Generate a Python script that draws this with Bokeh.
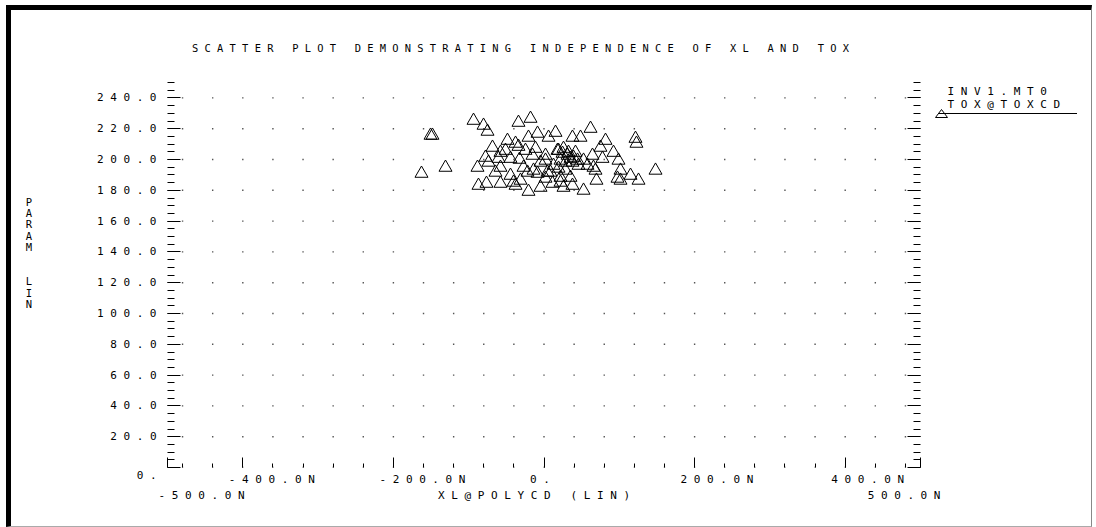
import numpy as np
from bokeh.plotting import figure
from bokeh.models import LinearAxis, FixedTicker, Range1d, Label
from bokeh.embed import file_html
from bokeh.resources import INLINE

# ---------------- data ----------------
title_text = "SCATTER PLOT DEMONSTRATING INDEPENDENCE OF XL AND TOX"
x_axis_title = "XL@POLYCD (LIN)"
y_axis_title = "PARAM LIN"
legend_lines = ["INV1.MT0", "TOX@TOXCD"]

xtick_values = [-400, -200, 0, 200, 400]
xtick_labels = ["-400.0N", "-200.0N", "0.", "200.0N", "400.0N"]
xend_values = [-500, 500]
xend_labels = ["-500.0N", "500.0N"]
ytick_values = [0, 20, 40, 60, 80, 100, 120, 140, 160, 180, 200, 220, 240]
ytick_labels = ["0.", "20.0", "40.0", "60.0", "80.0", "100.0", "120.0", "140.0",
                "160.0", "180.0", "200.0", "220.0", "240.0"]

xl = [-93.6, -80.3, -75.0, -33.9, -17.9, -150.7, -148.1, -8.6, -20.6, 6.0,
      15.3, 37.8, 48.5, 61.8, 121.5, 122.8, -48.5, -37.8, -33.9, 75.0,
      -68.4, -57.8, -11.3, -77.7, -60.4, -44.5, -32.5, -15.3, 2.0, 2.0,
      17.9, 24.6, 31.2, 35.2, 41.8, 21.9, 28.6, 37.8, 44.5, 64.4,
      77.7, 92.3, 98.9, -73.7, -57.8, -27.2, -21.9, -13.9, -8.6, 4.6,
      8.6, -162.7, -130.8, -88.3, -44.5, 21.9, 35.2, 65.7, 68.4, 97.6,
      101.6, 101.6, 114.9, 125.5, 148.1, 19.3, 28.6, -57.8, -87.0, -40.5,
      -37.8, -20.6, -4.6, 11.3, 25.9, 21.9, 37.8, 52.5, -76.4, 19.3,
      25.9, 32.5, 39.2, 45.8, 52.5, 57.8, 12.6, -4.6, -24.6, -51.1,
      -64.4, -31.2, 2.0, 69.7, 81.7]
tox = [225.3, 222.1, 218.2, 224.0, 226.6, 215.6, 215.6, 216.9, 214.3, 214.3,
       217.5, 214.3, 214.3, 220.1, 213.6, 210.4, 212.3, 210.4, 208.4, 207.8,
       207.8, 204.5, 207.1, 201.3, 200.6, 200.6, 200.0, 202.6, 202.6, 199.4,
       205.8, 203.9, 202.6, 200.6, 204.5, 199.4, 198.1, 198.1, 199.4, 202.6,
       200.6, 204.5, 199.4, 198.1, 194.8, 194.8, 191.6, 192.9, 190.9, 191.6,
       191.6, 190.9, 194.8, 194.8, 189.6, 188.3, 188.3, 194.8, 192.9, 187.7,
       186.4, 192.9, 189.6, 186.4, 192.9, 194.2, 192.9, 184.4, 183.1, 185.1,
       183.1, 179.2, 181.8, 184.4, 181.8, 185.1, 183.1, 179.9, 184.4, 205.8,
       207.1, 204.5, 201.3, 196.1, 199.4, 196.1, 196.1, 198.1, 205.8, 205.8,
       191.6, 186.4, 187.7, 186.4, 212.3]

# ---------------- layout ----------------
W, H = 1080, 516                     # figure size (css content box)
BL, BT = 5, 5                        # css frame borders (left, top)
CW, CH = W + BL + 1, H + BT + 1      # canvas size that bokeh ends up drawing
OX, OY = 11, 10                      # canvas origin on page
FL, FR, FT, FB = 167, 920, 82, 467   # plot frame on page
XMIN, XMAX, YMIN, YMAX = -500, 500, 0, 250
PPU = (FR - FL) / (XMAX - XMIN)      # pixels per x unit
FONT = "DejaVu Sans Mono"
FS_PX = 11
FS = f"{FS_PX}px"
ADV = 0.602 * FS_PX                  # monospace advance


def X(px):
    return XMIN + (px - FL) / PPU


def Y(py):
    return YMIN + (FB - py) * (YMAX - YMIN) / (FB - FT)


def sp(s):
    # wide letter spacing of the plotter font; word gaps kept with NBSP
    return " ".join("\u00a0" if c == " " else c for c in s)


def width_px(s):
    return (2 * len(s) - 1) * ADV


p = figure(width=W, height=H, output_backend="svg", toolbar_location=None,
           x_range=Range1d(XMIN, XMAX), y_range=Range1d(YMIN, YMAX),
           min_border_left=FL - OX, min_border_right=CW - (FR - OX),
           min_border_top=FT - OY, min_border_bottom=CH - (FB - OY),
           x_axis_location="below", y_axis_location="left")

# legend key (triangle + long rule) drawn as a small svg behind the canvas
key_svg = ("<svg xmlns='http://www.w3.org/2000/svg' width='150' height='16'>"
           "<polygon points='2.5,13.5 14.5,13.5 8.5,5.5' fill='none' stroke='black'/>"
           "<line x1='5' y1='9.5' x2='144' y2='9.5' stroke='black'/></svg>")
p.styles = {"box-sizing": "content-box", "margin-left": "6px", "margin-top": "5px",
            "border-left": f"{BL}px solid black", "border-top": f"{BT}px solid black",
            "border-right": "1px solid #888", "border-bottom": "1px solid #aaa",
            "background-color": "white",
            "background-image": f'url("data:image/svg+xml;utf8,{key_svg}")',
            "background-repeat": "no-repeat",
            "background-position": f"{933 - OX}px {104 - OY}px"}
p.outline_line_color = None
p.xgrid.visible = False
p.ygrid.visible = False
p.background_fill_color = "white"
p.border_fill_color = None

# ---- y axes: inward ticks; left one carries the tick labels ----
yminor = list(range(YMIN, YMAX + 1, 5))
right = LinearAxis()
p.add_layout(right, "right")
for ax in (p.yaxis[0], right):
    ax.ticker = FixedTicker(ticks=ytick_values, minor_ticks=yminor)
    ax.axis_line_color = None
    ax.major_tick_in = 13
    ax.major_tick_out = 0
    ax.minor_tick_in = 7
    ax.minor_tick_out = 0
    ax.major_tick_line_color = "black"
    ax.minor_tick_line_color = "black"
    ax.major_label_text_font = FONT
    ax.major_label_text_font_size = FS
    ax.major_label_text_color = "black"
LABEL_GAP = 11
yover = {v: sp(s) for v, s in zip(ytick_values, ytick_labels)}
yover[ytick_values[0]] = ""          # the origin label sits lower, drawn below
p.yaxis[0].major_label_overrides = yover
p.yaxis[0].major_label_standoff = LABEL_GAP
right.major_label_overrides = {v: "" for v in ytick_values}
right.major_label_text_font_size = "0px"

# ---- x axis: inward ticks only ----
xmajor = [XMIN] + xtick_values + [XMAX]
xminor = list(range(-480, 481, 40))
xa = p.xaxis[0]
xa.ticker = FixedTicker(ticks=xmajor, minor_ticks=xminor)
xa.major_label_overrides = {v: "" for v in xmajor}
xa.major_label_text_font_size = "0px"
xa.major_label_standoff = 0
xa.axis_line_color = None
xa.major_tick_in = 10
xa.major_tick_out = 0
xa.minor_tick_in = 4
xa.minor_tick_out = 0
xa.major_tick_line_color = "black"
xa.minor_tick_line_color = "black"


def text_axis(positions, texts, standoff):
    ax = LinearAxis(ticker=FixedTicker(ticks=positions, minor_ticks=[]))
    ax.major_label_overrides = dict(zip(positions, texts))
    ax.axis_line_color = None
    ax.major_tick_line_color = None
    ax.minor_tick_line_color = None
    ax.major_tick_in = 0
    ax.major_tick_out = 0
    ax.major_label_standoff = standoff
    ax.major_label_text_font = FONT
    ax.major_label_text_font_size = FS
    ax.major_label_text_color = "black"
    p.add_layout(ax, "below")
    return ax


# first label row: each label starts 14px left of its tick
row1_pos = [v + (-14 + width_px(s) / 2) / PPU for v, s in zip(xtick_values, xtick_labels)]
text_axis(row1_pos, [sp(s) for s in xtick_labels], 5)

# second label row: range end values and the axis title
row2_pos = [xend_values[0] + (-9 + width_px(xend_labels[0]) / 2) / PPU,
            -10 / PPU,
            xend_values[1] + (20 - width_px(xend_labels[1]) / 2) / PPU]
text_axis(row2_pos, [sp(xend_labels[0]), sp(x_axis_title), sp(xend_labels[1])], 0)

# dotted grid at the minor x positions and major y positions
gx, gy = np.meshgrid(np.array(xminor), np.array(ytick_values))
p.scatter(gx.ravel(), gy.ravel(), marker="square", size=1.4,
          fill_color="#555555", line_color=None)

# data
p.scatter(xl, tox, marker="triangle", size=13, fill_color=None,
          line_color="black", line_width=1)

# ---- texts outside the frame: Labels placed in side panels ----
p.add_layout(Label(x=0, y=YMAX, text=sp(title_text), x_offset=-23.5, y_offset=35,
                   text_align="center", text_baseline="middle", text_color="black",
                   text_font=FONT, text_font_size="10.4px"), "above")

p.add_layout(Label(x=XMIN, y=ytick_values[0], text=sp(ytick_labels[0]),
                   x_offset=-LABEL_GAP, y_offset=-8, text_align="right",
                   text_baseline="middle", text_color="black", text_font=FONT,
                   text_font_size=FS), "left")

ytitle = "\n\n\n".join("\n".join(w) for w in y_axis_title.split(" "))
p.add_layout(Label(x=X(28.5), y=Y(195), text=ytitle, text_align="center",
                   text_baseline="top", text_color="black", text_font=FONT,
                   text_font_size="10.5px", text_line_height=0.95), "left")

p.add_layout(Label(x=XMAX, y=YMAX, text="\n".join(sp(s) for s in legend_lines),
                   x_offset=27, y_offset=-2, text_align="left", text_baseline="top",
                   text_color="black", text_font=FONT, text_font_size=FS,
                   text_line_height=1.06), "right")

open("out.html", "w").write(file_html(p, INLINE))
